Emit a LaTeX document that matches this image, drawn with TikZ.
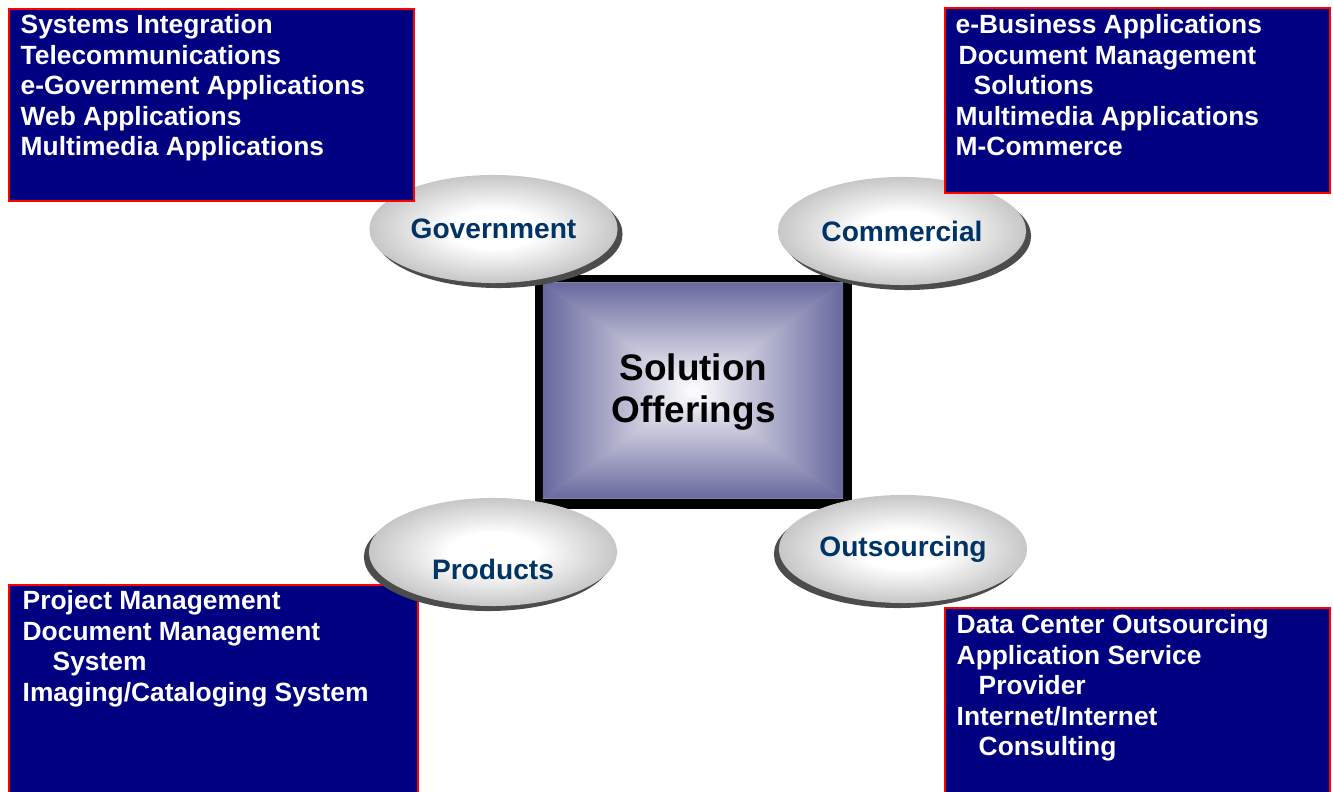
\documentclass[tikz,border=0pt]{standalone}
\usepackage{fontspec}
\setmainfont{Liberation Sans}
\usetikzlibrary{shapes.geometric,shadows,calc}

\definecolor{navypanel}{RGB}{0,0,128}
\definecolor{panelrim}{RGB}{255,0,0}
\definecolor{labelblue}{RGB}{0,51,102}
\definecolor{slate}{RGB}{104,104,158}

\pgfdeclareradialshading{ovalfill}{\pgfpoint{0bp}{0bp}}{color(0bp)=(white); color(9bp)=(white); color(25bp)=(black!22); color(50bp)=(black!22)}

\tikzset{
  panel/.style={draw=panelrim, fill=navypanel, line width=0.6pt, anchor=north west, inner sep=0pt},
  paneltext/.style={anchor=base west, align=left, text=white, inner sep=0pt, font=\fontsize{7.5}{8.7}\selectfont\bfseries},
  ovaltext/.style={text=labelblue, font=\fontsize{8}{9.6}\selectfont\bfseries},
  oval/.style={ellipse, shade, shading=ovalfill, minimum width=2.48cm, minimum height=1.08cm, inner sep=0pt, ovaltext},
  shadowright/.style={drop shadow={shadow xshift=0.05cm, shadow yshift=-0.05cm, fill=black!70, opacity=1}},
  shadowleft/.style={drop shadow={shadow xshift=-0.05cm, shadow yshift=-0.05cm, fill=black!70, opacity=1}},
  hub/.style={rectangle, fill=black, minimum width=3.17cm, minimum height=2.33cm, inner sep=0pt, align=center, font=\fontsize{10.5}{12}\selectfont\bfseries,
    path picture={
      \coordinate (inw) at ([shift={(8,7)}]path picture bounding box.north west);
      \coordinate (ine) at ([shift={(-9,7)}]path picture bounding box.north east);
      \coordinate (ise) at ([shift={(-9,-10)}]path picture bounding box.south east);
      \coordinate (isw) at ([shift={(8,-10)}]path picture bounding box.south west);
      \coordinate (imid) at ($(inw)!0.5!(ise)$);
      \fill [slate!55] (inw) rectangle (ise);
      \shade [top color=slate, bottom color=white] (inw) -- (ine) -- (imid) -- cycle;
      \shade [top color=white, bottom color=slate] (isw) -- (ise) -- (imid) -- cycle;
      \shade [left color=slate, right color=white] (inw) -- (isw) -- (imid) -- cycle;
      \shade [left color=white, right color=slate] (ine) -- (ise) -- (imid) -- cycle;
    }},
}

\begin{document}
\begin{tikzpicture}[x=0.01cm, y=-0.01cm]
  \useasboundingbox (0,0) rectangle (1333,792);
  \clip (0,0) rectangle (1333,792);

  % centre block
  \node [hub] (hub) at (693.5,392) {Solution\\Offerings};

  % upper ovals and their lists (lists anchored on their last line)
  \node [oval, shadowright] (gov) at (493.5,229) {Government};
  \node [oval, shadowright] (com) at (902,231) {Commercial};

  \node [panel, minimum width=4.05cm, minimum height=1.92cm] (govbox) at (8,8) {};
  \node [paneltext] (govlist) at (20,156) {Systems Integration\\Telecommunications\\e-Government Applications\\Web Applications\\Multimedia Applications};

  \node [panel, minimum width=3.85cm, minimum height=1.85cm] (combox) at (944,7) {};
  \node [paneltext] (comlist) at (955,156) {e-Business Applications\\\hspace*{0.03cm}Document Management\\\hspace*{0.18cm}Solutions\\Multimedia Applications\\M-Commerce};

  % lower lists and their ovals
  \node [panel, minimum width=4.09cm, minimum height=2.3cm] (probox) at (8,584) {};
  \node [paneltext] (prolist) at (22,701.5) {Project Management\\Document Management\\\hspace*{0.3cm}System\\Imaging/Cataloging System};

  \node [panel, minimum width=3.85cm, minimum height=2.0cm] (outbox) at (944,607) {};
  \node [paneltext] (outlist) at (956,756) {Data Center Outsourcing\\Application Service\\\hspace*{0.22cm}Provider\\Internet/Internet\\\hspace*{0.22cm}Consulting};

  \node [oval, shadowleft, label={[ovaltext, yshift=-0.17cm]center:Products}] (pro) at (493,552) {};
  \node [oval, shadowleft] (out) at (903,549) {Outsourcing};
\end{tikzpicture}
\end{document}
